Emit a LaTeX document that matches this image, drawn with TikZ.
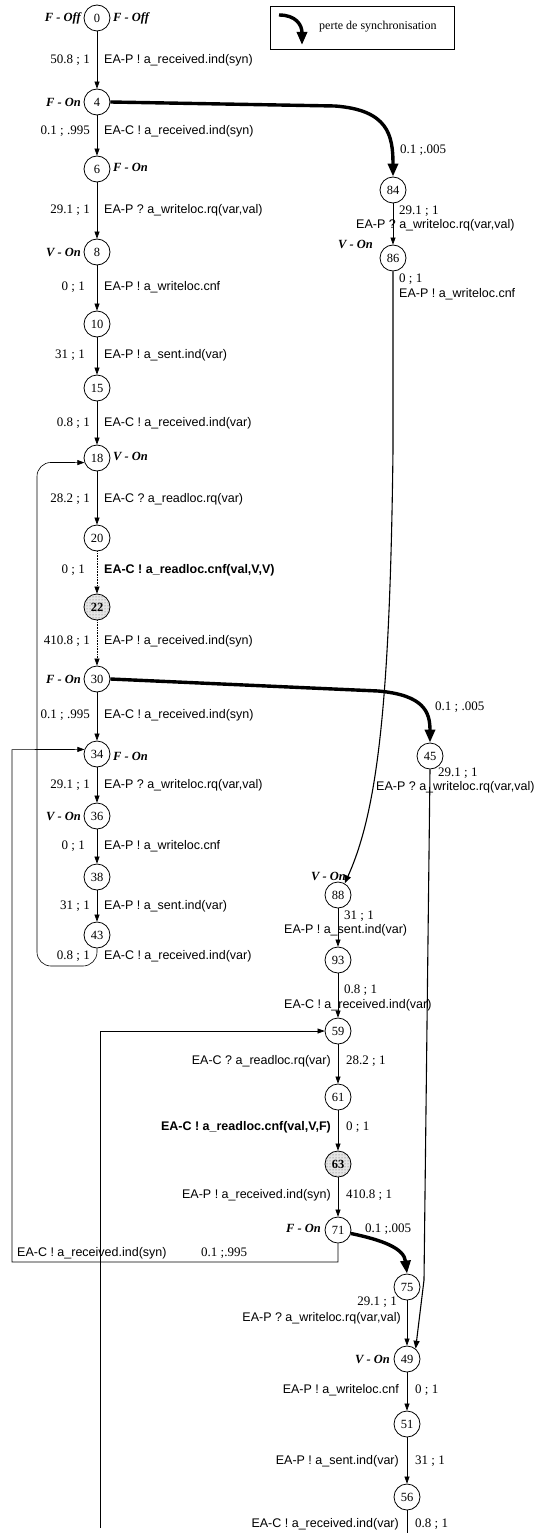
\documentclass[tikz,border=0pt]{standalone}
\usepackage{fontspec}
\setmainfont{Liberation Serif}
\setsansfont{Liberation Sans}
\usetikzlibrary{arrows.meta,patterns}
\begin{document}
\begin{tikzpicture}[x=1pt,y=-1pt,
  st/.style={circle,draw,line width=0.8pt,minimum size=26pt,inner sep=0pt,font=\fontsize{12.5}{13}\selectfont},
  stdot/.style={st,preaction={fill=gray!20},pattern=dots,pattern color=gray!80!black},
  edge/.style={line width=0.6pt,-{Triangle[length=7pt,width=5pt]}},
  thin/.style={line width=0.6pt},
  sync/.style={line width=3.4pt,-{Triangle[length=13pt,width=10pt]}},
  mid/.style={line width=1.1pt,-{Triangle[length=8pt,width=6pt]}},
  lab/.style={font=\sffamily\fontsize{12.5}{13}\selectfont,inner sep=1pt},
  labb/.style={font=\sffamily\bfseries\fontsize{12.5}{13}\selectfont,inner sep=1pt},
  num/.style={font=\fontsize{13}{14}\selectfont,inner sep=1pt},
  ann/.style={font=\bfseries\itshape\fontsize{12.5}{13}\selectfont,inner sep=1pt},
]
\useasboundingbox (0,0) rectangle (559,1533);

% legend
\node[draw,line width=0.6pt,minimum width=184pt,minimum height=43pt,anchor=north west] (legend) at (270,6) {};
\coordinate (la) at (279,15);
\coordinate (lb) at (302,45);
\draw[sync] (la) .. controls (296,15) and (302,25) .. (lb);
\node[num,font=\fontsize{12}{13}\selectfont,anchor=west] (legtxt) at (318,27) {perte de synchronisation};

% main column
\node[st] (n0) at (97,18) {0};
\node[st] (n4) at (97,102) {4};
\node[st] (n6) at (97,169) {6};
\node[st] (n8) at (97,252) {8};
\node[st] (n10) at (97,324) {10};
\node[st] (n15) at (97,388) {15};
\node[st] (n18) at (97,458) {18};
\node[st] (n20) at (97,538) {20};
\node[stdot] (n22) at (97,607) {\textbf{22}};
\node[st] (n30) at (97,679) {30};
\node[st] (n34) at (97,754) {34};
\node[st] (n36) at (97,816) {36};
\node[st] (n38) at (97,877) {38};
\node[st] (n43) at (97,935) {43};

% right branch
\node[st] (n84) at (393,190) {84};
\node[st] (n86) at (393,258) {86};
\node[st] (n45) at (430,756) {45};
\node[st] (n88) at (338,895) {88};
\node[st] (n93) at (338,960) {93};
\node[st] (n59) at (338,1031) {59};
\node[st] (n61) at (338,1097) {61};
\node[stdot] (n63) at (338,1164) {\textbf{63}};
\node[st] (n71) at (338,1230) {71};
\node[st] (n75) at (407,1287) {75};
\node[st] (n49) at (407,1359) {49};
\node[st] (n51) at (407,1424) {51};
\node[st] (n56) at (407,1497) {56};

% state annotations
\node[ann,anchor=east] (a0l) at (82,18) {F - Off};
\node[ann,anchor=west] (a0r) at (112,18) {F - Off};
\node[ann,anchor=east] (a4) at (82,102) {F - On};
\node[ann,anchor=west] (a6) at (112,167) {F - On};
\node[ann,anchor=east] (a8) at (82,252) {V - On};
\node[ann,anchor=west] (a18) at (112,456) {V - On};
\node[ann,anchor=east] (a30) at (82,679) {F - On};
\node[ann,anchor=west] (a34) at (112,756) {F - On};
\node[ann,anchor=east] (a36) at (82,816) {V - On};
\node[ann,anchor=east] (a86) at (374,244) {V - On};
\node[ann,anchor=east] (a88) at (347,876) {V - On};
\node[ann,anchor=east] (a71) at (322,1228) {F - On};
\node[ann,anchor=east] (a49) at (391,1359) {V - On};

% main column edges
\draw[edge] (n0) -- (n4);
\draw[edge] (n4) -- (n6);
\draw[edge] (n6) -- (n8);
\draw[edge] (n8) -- (n10);
\draw[edge] (n10) -- (n15);
\draw[edge] (n15) -- (n18);
\draw[edge] (n18) -- (n20);
\draw[edge,densely dotted] (n20) -- (n22);
\draw[edge,densely dotted] (n22) -- (n30);
\draw[edge] (n30) -- (n34);
\draw[edge] (n34) -- (n36);
\draw[edge] (n36) -- (n38);
\draw[edge] (n38) -- (n43);
\draw[edge,rounded corners=14pt] (n43.south) -- (97,966) -- (37,966) -- (37,462.4) -- (n18.200);

% labels main column
\node[num,anchor=east] (m1) at (91,60) {50.8 ; 1};
\node[lab,anchor=west] (t1) at (103,60) {EA-P ! a\_received.ind(syn)};
\node[num,anchor=east] (m2) at (91,131) {0.1 ; .995};
\node[lab,anchor=west] (t2) at (103,131) {EA-C ! a\_received.ind(syn)};
\node[num,anchor=east] (m3) at (91,210) {29.1 ; 1};
\node[lab,anchor=west] (t3) at (103,210) {EA-P ? a\_writeloc.rq(var,val)};
\node[num,anchor=east] (m4) at (86,287) {0 ; 1};
\node[lab,anchor=west] (t4) at (103,287) {EA-P ! a\_writeloc.cnf};
\node[num,anchor=east] (m5) at (86,355) {31 ; 1};
\node[lab,anchor=west] (t5) at (103,355) {EA-P ! a\_sent.ind(var)};
\node[num,anchor=east] (m6) at (91,423) {0.8 ; 1};
\node[lab,anchor=west] (t6) at (103,423) {EA-C ! a\_received.ind(var)};
\node[num,anchor=east] (m7) at (91,499) {28.2 ; 1};
\node[lab,anchor=west] (t7) at (103,499) {EA-C ? a\_readloc.rq(var)};
\node[num,anchor=east] (m8) at (86,570) {0 ; 1};
\node[labb,anchor=west] (t8) at (103,570) {EA-C ! a\_readloc.cnf(val,V,V)};
\node[num,anchor=east] (m9) at (91,641) {410.8 ; 1};
\node[lab,anchor=west] (t9) at (103,641) {EA-P ! a\_received.ind(syn)};
\node[num,anchor=east] (m10) at (91,715) {0.1 ; .995};
\node[lab,anchor=west] (t10) at (103,715) {EA-C ! a\_received.ind(syn)};
\node[num,anchor=east] (m11) at (91,785) {29.1 ; 1};
\node[lab,anchor=west] (t11) at (103,785) {EA-P ? a\_writeloc.rq(var,val)};
\node[num,anchor=east] (m12) at (86,846) {0 ; 1};
\node[lab,anchor=west] (t12) at (103,846) {EA-P ! a\_writeloc.cnf};
\node[num,anchor=east] (m13) at (91,906) {31 ; 1};
\node[lab,anchor=west] (t13) at (103,906) {EA-P ! a\_sent.ind(var)};
\node[num,anchor=east] (m14) at (91,956) {0.8 ; 1};
\node[lab,anchor=west] (t14) at (103,956) {EA-C ! a\_received.ind(var)};

% synchronisation losses
\draw[sync] (n4.east) -- (335,106) .. controls (388,110) and (393,135) .. (n84.north);
\draw[sync] (n30.east) -- (378,691) .. controls (424,695) and (430,712) .. (n45.north);
\draw[sync] (n71.-15) .. controls (382,1240) and (404,1248) .. (n75.north);
\node[num,anchor=west] (s1) at (399,150) {0.1 ;.005};
\node[num,anchor=west] (s2) at (434,707) {0.1 ; .005};
\node[num,anchor=west] (s3) at (364,1229) {0.1 ;.005};

% right branch edges
\draw[edge] (n84) -- (n86);
\draw[mid] (n86.south) -- (393,450) .. controls (390,700) and (378,810) .. (n88.60);
\draw[mid] (n45.south) -- (424,1280) -- (n49.50);
\draw[edge] (n88) -- (n93);
\draw[edge] (n93) -- (n59);
\draw[edge] (n59) -- (n61);
\draw[edge] (n61) -- (n63);
\draw[edge] (n63) -- (n71);
\draw[edge] (n75) -- (n49);
\draw[edge] (n49) -- (n51);
\draw[edge] (n51) -- (n56);
\coordinate (bot56) at (407,1533);
\draw[thin] (n56.south) -- (bot56);
\coordinate (bot59) at (100,1528);
\draw[edge] (bot59) -- (100,1031) -- (n59.west);
\draw[edge] (n71.south) -- (338,1262) -- (12,1262) -- (12,749.6) -- (n34.160);

% right branch labels
\node[num,anchor=west] (r1) at (398,211) {29.1 ; 1};
\node[lab,anchor=west] (r2) at (355,225) {EA-P ? a\_writeloc.rq(var,val)};
\node[num,anchor=west] (r3) at (398,279) {0 ; 1};
\node[lab,anchor=west] (r4) at (398,294) {EA-P ! a\_writeloc.cnf};
\node[num,anchor=west] (r5) at (437,773) {29.1 ; 1};
\node[lab,anchor=west] (r6) at (375,787) {EA-P ? a\_writeloc.rq(var,val)};
\node[num,anchor=west] (r7) at (343,916) {31 ; 1};
\node[lab,anchor=west] (r8) at (283,930) {EA-P ! a\_sent.ind(var)};
\node[num,anchor=west] (r9) at (343,990) {0.8 ; 1};
\node[lab,anchor=west] (r10) at (283,1005) {EA-C ! a\_received.ind(var)};
\node[lab,anchor=east] (r11) at (332,1061) {EA-C ? a\_readloc.rq(var)};
\node[num,anchor=west] (r12) at (345,1061) {28.2 ; 1};
\node[labb,anchor=east] (r13) at (332,1127) {EA-C ! a\_readloc.cnf(val,V,F)};
\node[num,anchor=west] (r14) at (345,1127) {0 ; 1};
\node[lab,anchor=east] (r15) at (332,1195) {EA-P ! a\_received.ind(syn)};
\node[num,anchor=west] (r16) at (345,1195) {410.8 ; 1};
\node[lab,anchor=west] (r17) at (16,1253) {EA-C ! a\_received.ind(syn)};
\node[num,anchor=west] (r18) at (200,1253) {0.1 ;.995};
\node[num,anchor=east] (r19) at (398,1302) {29.1 ; 1};
\node[lab,anchor=east] (r20) at (402,1318) {EA-P ? a\_writeloc.rq(var,val)};
\node[lab,anchor=east] (r21) at (400,1390) {EA-P ! a\_writeloc.cnf};
\node[num,anchor=west] (r22) at (414,1390) {0 ; 1};
\node[lab,anchor=east] (r23) at (400,1461) {EA-P ! a\_sent.ind(var)};
\node[num,anchor=west] (r24) at (414,1461) {31 ; 1};
\node[lab,anchor=east] (r25) at (400,1524) {EA-C ! a\_received.ind(var)};
\node[num,anchor=west] (r26) at (414,1524) {0.8 ; 1};
\end{tikzpicture}
\end{document}
